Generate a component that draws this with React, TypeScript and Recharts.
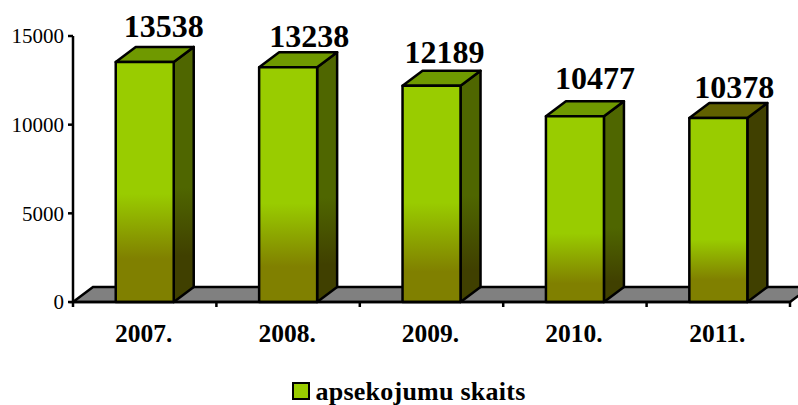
import { BarChart, Bar, XAxis, YAxis, Legend, LabelList, usePlotArea } from 'recharts';

const years = ['2007.', '2008.', '2009.', '2010.', '2011.'];
const surveys = [13538, 13238, 12189, 10477, 10378];
const yTicks = [0, 5000, 10000, 15000];
const seriesName = 'apsekojumu skaits';

const data = years.map((year, i) => ({ year, surveys: surveys[i] }));

const FONT = '"Liberation Serif", "Times New Roman", serif';
const DEPTH_X = 20;
const DEPTH_Y = 15;
const LINE = 2.5;

// per-bar shading, the original gradient is not the same on each column
const gradientStart = [0.55, 0.58, 0.54, 0.63, 0.66];
const gradientEnd = [0.82, 0.85, 0.86, 0.9, 0.88];
const topColors = ['#6f9900', '#6f9900', '#6f9900', '#6f9900', '#606000'];
const sideColors = ['#4f6600', '#4f6600', '#4f6600', '#4f6600', '#404000'];
const labelDx = [19, 21, 13, 20, 16];
const labelBaseline = [-25, -20, -23, -27, -20];

function Floor() {
  const plot = usePlotArea();
  if (!plot) return null;
  const { x, y, width, height } = plot;
  const bottom = y + height;
  const points = [
    [x, bottom],
    [x + DEPTH_X, bottom - DEPTH_Y],
    [x + width + DEPTH_X, bottom - DEPTH_Y],
    [x + width, bottom],
  ];
  return <polygon points={points.map((p) => p.join(',')).join(' ')} fill="#808080" stroke="#000" strokeWidth={LINE} />;
}

function Box3D(props: any) {
  const { x, y, width, height, index } = props;
  const right = x + width;
  const bottom = y + height;
  const id = `front-${index}`;
  const sideId = `side-${index}`;
  return (
    <g stroke="#000" strokeWidth={LINE} strokeLinejoin="round">
      <defs>
        <linearGradient id={id} x1="0" y1="0" x2="0" y2="1">
          <stop offset={gradientStart[index]} stopColor="#99cc00" />
          <stop offset={gradientEnd[index]} stopColor="#808000" />
        </linearGradient>
        <linearGradient id={sideId} x1="0" y1="0" x2="0" y2="1">
          <stop offset={gradientStart[index]} stopColor={sideColors[index]} />
          <stop offset={gradientEnd[index]} stopColor="#404000" />
        </linearGradient>
      </defs>
      <polygon
        points={`${right},${y} ${right + DEPTH_X},${y - DEPTH_Y} ${right + DEPTH_X},${bottom - DEPTH_Y} ${right},${bottom}`}
        fill={`url(#${sideId})`}
      />
      <polygon
        points={`${x},${y} ${x + DEPTH_X},${y - DEPTH_Y} ${right + DEPTH_X},${y - DEPTH_Y} ${right},${y}`}
        fill={topColors[index]}
      />
      <rect x={x} y={y} width={width} height={height} fill={`url(#${id})`} />
    </g>
  );
}

function BarValue(props: any) {
  const { x, y, width, value, index } = props;
  return (
    <text
      x={x + width / 2 + labelDx[index]}
      y={y + labelBaseline[index]}
      textAnchor="middle"
      fontFamily={FONT}
      fontWeight="bold"
      fontSize={32}
      fill="#000"
    >
      {value}
    </text>
  );
}

// category labels, with the tick marks sitting between the categories
function YearTick(props: any) {
  const { x, y, payload, index } = props;
  const band = 717 / years.length;
  const axisY = y - 8;
  return (
    <g>
      {index === 0 && <line x1={x - band / 2} x2={x - band / 2} y1={axisY} y2={axisY + 5} stroke="#000" strokeWidth={LINE} />}
      <line x1={x + band / 2} x2={x + band / 2} y1={axisY} y2={axisY + 5} stroke="#000" strokeWidth={LINE} />
      <text x={x - 1} y={axisY + 40} textAnchor="middle" fontFamily={FONT} fontWeight="bold" fontSize={25.5} fill="#000">
        {payload.value}
      </text>
    </g>
  );
}

function LegendBox() {
  return (
    <div
      style={{
        position: 'relative',
        left: 14,
        top: 10,
        display: 'flex',
        alignItems: 'center',
        justifyContent: 'center',
        fontFamily: FONT,
        fontWeight: 'bold',
        fontSize: 26,
        letterSpacing: 0.25,
        lineHeight: '24px',
        color: '#000',
      }}
    >
      <span
        style={{
          display: 'inline-block',
          width: 14,
          height: 14,
          marginTop: -3,
          background: '#99cc00',
          border: '2px solid #000',
          marginRight: 5,
        }}
      />
      {seriesName}
    </div>
  );
}

export default function App() {
  return (
    <div style={{ position: 'absolute', left: 0, top: 0, width: 798, height: 405, background: '#fff', overflow: 'hidden' }}>
      <BarChart
        width={798}
        height={405}
        data={data}
        margin={{ top: 36, right: 8, bottom: 5, left: 0 }}
        barCategoryGap="29.8%"
      >
        <Floor />
        <XAxis
          dataKey="year"
          height={68}
          axisLine={{ stroke: '#000', strokeWidth: LINE }}
          tickLine={false}
          tick={<YearTick />}
          interval={0}
        />
        <YAxis
          width={73}
          domain={[0, 15000]}
          ticks={yTicks}
          interval={0}
          axisLine={{ stroke: '#000', strokeWidth: LINE }}
          tickLine={{ stroke: '#000', strokeWidth: LINE }}
          tickSize={5}
          tickMargin={4}
          tick={{ fontFamily: FONT, fontSize: 21, fill: '#000' }}
        />
        <Legend verticalAlign="bottom" height={30} content={<LegendBox />} />
        <Bar dataKey="surveys" name={seriesName} shape={<Box3D />} isAnimationActive={false}>
          <LabelList dataKey="surveys" content={<BarValue />} />
        </Bar>
      </BarChart>
    </div>
  );
}
